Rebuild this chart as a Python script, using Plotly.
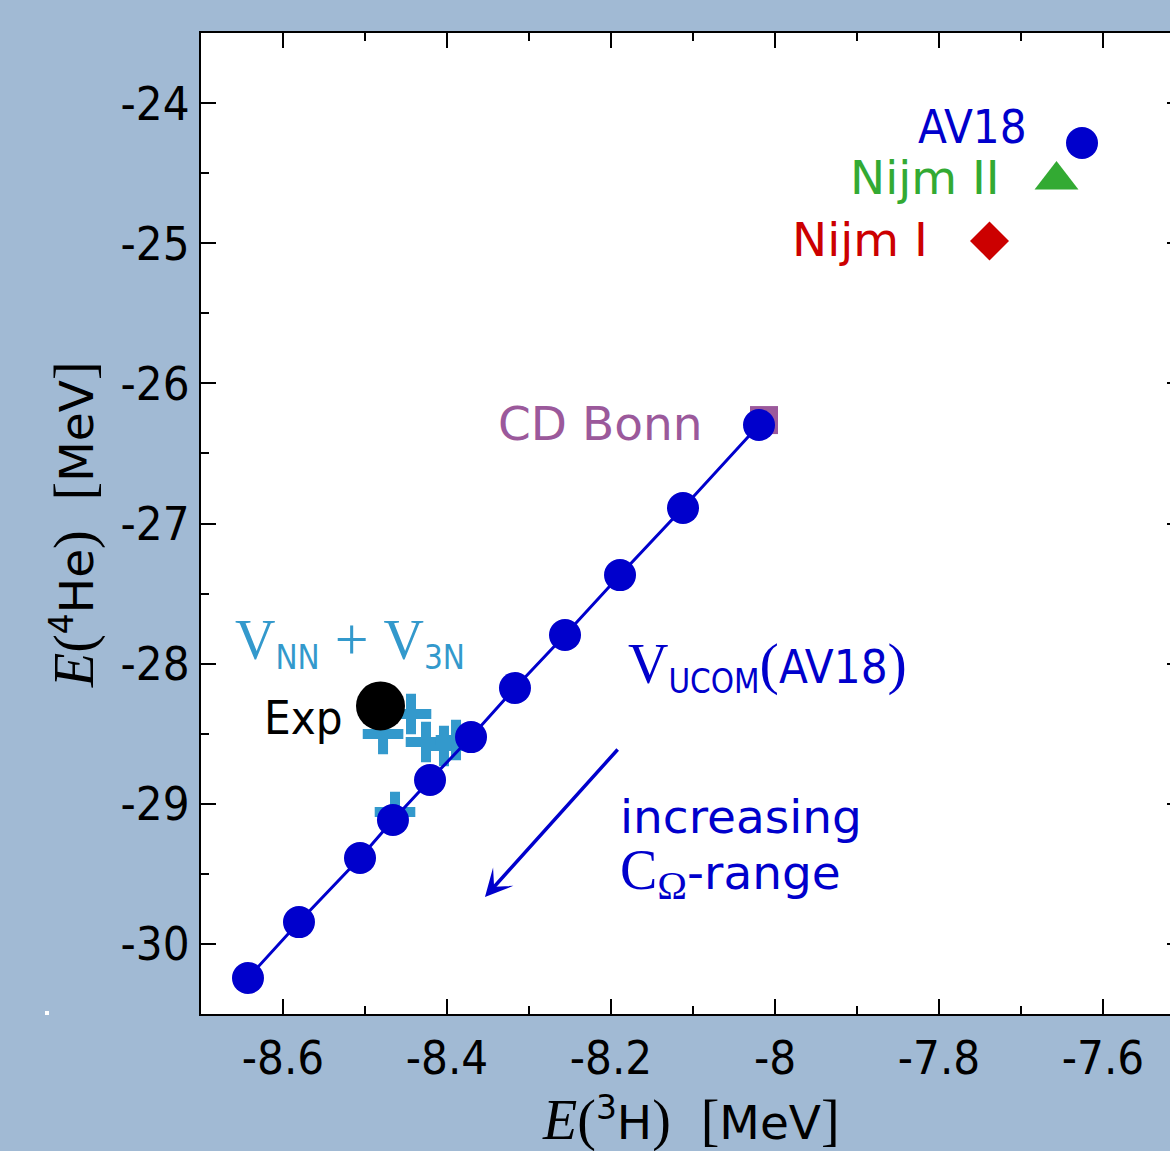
import plotly.graph_objects as go

# ---------------- data ----------------
ucom_e3h = [-8.6427, -8.5805, -8.5061, -8.4659, -8.4207, -8.3707, -8.3171, -8.2561, -8.1890, -8.1122, -8.0195]
ucom_e4he = [-30.243, -29.844, -29.387, -29.116, -28.830, -28.524, -28.174, -27.796, -27.368, -26.889, -26.297]

av18_e3h = [-7.6256]
av18_e4he = [-24.285]
nijm2_e3h = [-7.6567]
nijm2_e4he = [-24.549]
nijm1_e3h = [-7.7384]
nijm1_e4he = [-24.984]
cdbonn_e3h = [-8.0134]
cdbonn_e4he = [-26.262]
exp_e3h = [-8.4811]
exp_e4he = [-28.302]
v3n_e3h = [-8.4780, -8.4439, -8.4256, -8.4037, -8.3890, -8.4634]
v3n_e4he = [-28.502, -28.359, -28.559, -28.588, -28.545, -29.059]

x_tickvals = [-8.6, -8.4, -8.2, -8.0, -7.8, -7.6]
x_ticktext = ["-8.6", "-8.4", "-8.2", "-8", "-7.8", "-7.6"]
y_tickvals = [-30, -29, -28, -27, -26, -25, -24]
y_ticktext = ["-30", "-29", "-28", "-27", "-26", "-25", "-24"]

# ---------------- style ----------------
W, H = 1170, 1151
L, T, R, B = 201, 33, 1170, 1014
XR = [-8.7, -8.7 + (R - L) / 820.0]
YR = [-30.5, -23.5]
BG = "#a1bad4"
BLUE = "#0000cc"
GREEN = "#33aa33"
RED = "#cc0000"
PURPLE = "#9b599b"
LBLUE = "#3399cc"
COND = "DejaVu Sans Condensed, DejaVu Sans, sans-serif"
REG = "DejaVu Sans, sans-serif"
SERIF = "Liberation Serif, DejaVu Serif, serif"
FS = 47


def P(px, py):
    return (px - L) / (R - L), (B - py) / (B - T)


def sf(t, size=56):
    return f'<span style="font-family:{SERIF};font-size:{size}px">{t}</span>'


def rf(t):
    return f'<span style="font-family:{REG}">{t}</span>'


fig = go.Figure()

fig.add_trace(go.Scatter(x=cdbonn_e3h, y=cdbonn_e4he, mode="markers",
                         marker=dict(symbol="square", size=28, color=PURPLE)))
fig.add_trace(go.Scatter(x=v3n_e3h, y=v3n_e4he, mode="markers",
                         marker=dict(symbol="cross-thin", size=29, color=LBLUE,
                                     line=dict(width=10, color=LBLUE))))
fig.add_trace(go.Scatter(x=exp_e3h, y=exp_e4he, mode="markers",
                         marker=dict(symbol="circle", size=49, color="black")))
fig.add_trace(go.Scatter(x=av18_e3h, y=av18_e4he, mode="markers",
                         marker=dict(symbol="circle", size=32, color=BLUE)))
fig.add_trace(go.Scatter(x=nijm2_e3h, y=nijm2_e4he, mode="markers",
                         marker=dict(symbol="triangle-up", size=38, color=GREEN)))
fig.add_trace(go.Scatter(x=nijm1_e3h, y=nijm1_e4he, mode="markers",
                         marker=dict(symbol="diamond", size=30, color=RED)))
fig.add_trace(go.Scatter(x=ucom_e3h, y=ucom_e4he, mode="lines+markers",
                         line=dict(color=BLUE, width=3),
                         marker=dict(symbol="circle", size=32, color=BLUE)))
# invisible trace for right axis ticks
fig.add_trace(go.Scatter(x=[XR[0]], y=[YR[0]], yaxis="y2", mode="markers",
                         marker=dict(opacity=0), hoverinfo="skip"))

annotations = []


def txt(text, px, py, color, xanchor="left", family=COND, size=FS, **kw):
    x, y = P(px, py)
    annotations.append(dict(text=text, x=x, y=y, xref="paper", yref="paper",
                            xanchor=xanchor, yanchor="middle", showarrow=False,
                            font=dict(family=family, size=size, color=color), **kw))


txt("AV18", 1029, 127, BLUE, xanchor="right")
txt("Nijm II", 1002, 177, GREEN, xanchor="right", family=REG)
txt("Nijm I", 930, 239, RED, xanchor="right", family=REG)
txt("CD Bonn", 496, 423, PURPLE, family=REG)
txt("Exp", 262, 717, "black")
txt(sf("V") + "<sub>NN</sub>" + sf(" + ", 60) + sf("V") + "<sub>3N</sub>", 233, 641, LBLUE)
txt(sf("V") + "<sub>UCOM</sub>" + sf("(", 58) + "AV18" + sf(")", 58), 626, 666, BLUE)
txt(rf("increasing"), 618, 816, BLUE)
txt(sf("C") + "<sub>" + sf("Ω", 40) + "</sub>" + rf("-range"), 618, 873, BLUE)

# axis titles
txt(sf("<i>E</i>(") + "<sup>3</sup>H" + sf(")") + "  " + sf("[") + "MeV" + sf("]"),
    691, 1120, "black", xanchor="center", family=REG)
xa, ya = P(74, 525)
annotations.append(dict(text=sf("<i>E</i>(") + "<sup>4</sup>He" + sf(")") + "  " + sf("[") + "MeV" + sf("]"),
                        x=xa, y=ya, xref="paper", yref="paper", xanchor="center",
                        yanchor="middle", textangle=-90, showarrow=False,
                        font=dict(family=REG, size=FS, color="black")))

# arrow (increasing C_Omega range)
annotations.append(dict(x=-8.3537, y=-29.665, ax=-8.1902, ay=-28.602,
                        xref="x", yref="y", axref="x", ayref="y", text="",
                        showarrow=True, arrowhead=3, arrowsize=1.3, arrowwidth=3.5,
                        arrowcolor=BLUE))

shapes = []
x0, y0 = P(45, 1015)
x1, y1 = P(49, 1011)
shapes.append(dict(type="rect", xref="paper", yref="paper", x0=x0, y0=y0, x1=x1, y1=y1,
                   fillcolor="white", line=dict(width=0)))

fig.update_layout(
    width=W, height=H,
    margin=dict(l=L, r=W - R, t=T, b=H - B, pad=0),
    paper_bgcolor=BG, plot_bgcolor="white",
    showlegend=False,
    font=dict(family=COND, size=FS, color="black"),
    annotations=annotations,
    shapes=shapes,
    xaxis=dict(range=XR, showgrid=False, zeroline=False, showline=True,
               linecolor="black", linewidth=2, mirror="ticks",
               ticks="inside", ticklen=15, tickwidth=2, tickcolor="black",
               tickvals=x_tickvals, ticktext=x_ticktext,
               tickfont=dict(family=COND, size=FS, color="black"),
               ticklabelstandoff=2,
               minor=dict(ticks="inside", ticklen=8, tickwidth=2, tickcolor="black", dtick=0.1, tick0=-8.7)),
    yaxis=dict(range=YR, showgrid=False, zeroline=False, showline=True,
               linecolor="black", linewidth=2, mirror=False,
               ticks="inside", ticklen=15, tickwidth=2, tickcolor="black",
               tickvals=y_tickvals, ticktext=y_ticktext,
               tickfont=dict(family=COND, size=FS, color="black"),
               ticklabelstandoff=0,
               minor=dict(ticks="inside", ticklen=8, tickwidth=2, tickcolor="black", dtick=0.5, tick0=-30.5)),
    yaxis2=dict(range=YR, overlaying="y", side="right", anchor="x", showgrid=False,
                zeroline=False, showline=False, ticks="inside", ticklen=3, tickwidth=2,
                tickcolor="black", tickvals=y_tickvals, showticklabels=False),
)

fig.write_html("out.html", config={"displayModeBar": False},
               post_script="document.body.style.margin='0';document.body.style.overflow='hidden';")
